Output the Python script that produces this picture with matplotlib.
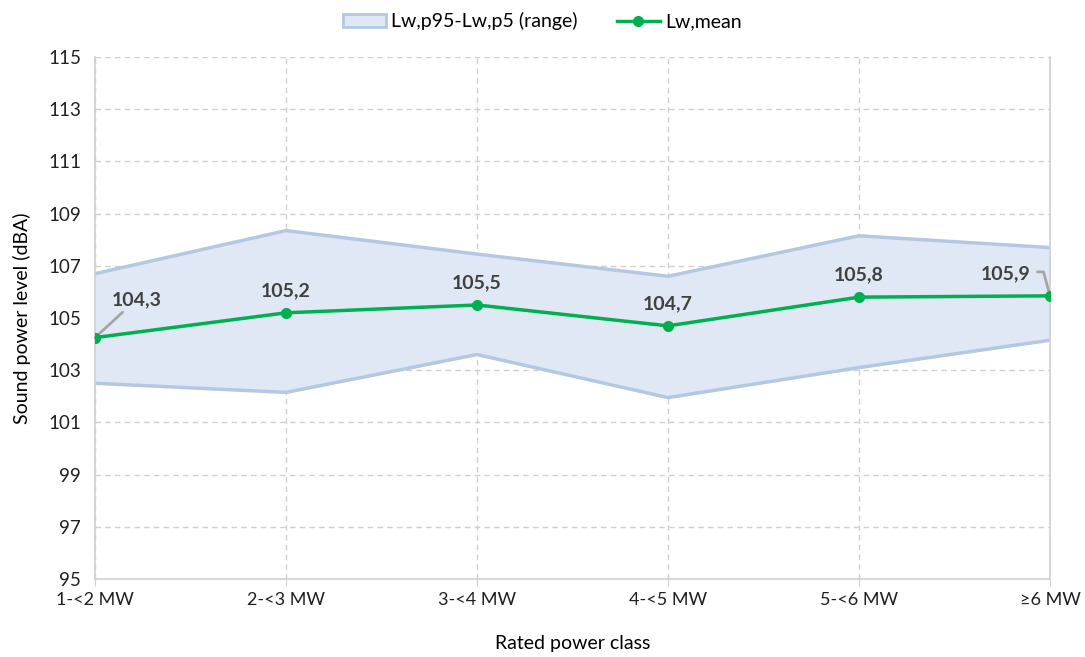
import numpy as np
import matplotlib
matplotlib.use('Agg')
import matplotlib.pyplot as plt
from matplotlib.patches import Patch
from matplotlib.lines import Line2D

font = {'family': ['Lato', 'DejaVu Sans'], 'size': 13}
matplotlib.rc('font', **font)

# Data
classes = ['1-<2 MW', '2-<3 MW', '3-<4 MW', '4-<5 MW', '5-<6 MW', '≥6 MW']
lw_p95 = [106.7, 108.35, 107.45, 106.6, 108.15, 107.7]
lw_p5 = [102.5, 102.15, 103.6, 101.95, 103.1, 104.15]
lw_mean = [104.25, 105.2, 105.5, 104.7, 105.8, 105.85]
mean_labels = ['104,3', '105,2', '105,5', '104,7', '105,8', '105,9']

x = np.arange(len(classes))

fig = plt.figure(figsize=(10.85, 6.57), dpi=100)
ax = fig.add_axes([0.0876, 0.1187, 0.8801, 0.7945])

band_face = '#dfe8f4'
band_edge = '#b4c8e4'
green = '#00b050'
txt = '#404040'

ax.fill_between(x, lw_p5, lw_p95, color=band_face, zorder=1)
ax.plot(x, lw_p95, color=band_edge, lw=2.5, zorder=2)
ax.plot(x, lw_p5, color=band_edge, lw=2.5, zorder=2)
ax.plot(x, lw_mean, color=green, lw=2.5, marker='o', ms=7, zorder=4)

# data labels
last = len(lw_mean) - 1
for i, (v, lab) in enumerate(zip(lw_mean, mean_labels)):
    if i == 0:
        ax.annotate(lab, (x[i], v), xytext=(30, 21), textcoords='offset points',
                    ha='center', va='bottom', fontsize=14, fontweight='bold', color=txt,
                    arrowprops=dict(arrowstyle='-', color='#a6a6a6', lw=2, shrinkA=1, shrinkB=0,
                                    relpos=(0.3, 0)), zorder=3)
    elif i == last:
        ax.annotate(lab, (x[i], v), xytext=(-14, 16), textcoords='offset points',
                    ha='right', va='center', fontsize=14, fontweight='bold', color=txt,
                    arrowprops=dict(arrowstyle='-', color='#a6a6a6', lw=2, shrinkA=3, shrinkB=0,
                                    connectionstyle='angle,angleA=0,angleB=105,rad=0',
                                    relpos=(1, 0.6)), zorder=3)
    else:
        ax.annotate(lab, (x[i], v), xytext=(0, 10), textcoords='offset points',
                    ha='center', va='bottom', fontsize=14, fontweight='bold', color=txt)

ax.set_xlim(0, last)
ax.set_ylim(95, 115)
ax.set_yticks(np.arange(95, 116, 2))
ax.set_xticks(x)
ax.set_xticklabels(classes)
ax.grid(True, color='#d0d0d0', ls=(0, (4, 3)), lw=1)
ax.set_axisbelow(True)
ax.spines['top'].set_visible(False)
for s in ['left', 'bottom', 'right']:
    ax.spines[s].set_color('#d0d0d0')
    ax.spines[s].set_linewidth(1.2)
ax.tick_params(axis='y', length=0, labelsize=13.5, pad=10)
ax.tick_params(axis='x', length=5, color='#d0d0d0', labelsize=13, pad=4)
for t in ax.get_xticklabels() + ax.get_yticklabels():
    t.set_color('#202020')

ax.set_xlabel('Rated power class', fontsize=14, labelpad=20)
ax.set_ylabel('Sound power level (dBA)', fontsize=14, labelpad=12)

handles = [Patch(facecolor=band_face, edgecolor=band_edge, lw=2, label='Lw,p95-Lw,p5 (range)'),
           Line2D([0], [0], color=green, lw=2.5, marker='o', ms=7, label='Lw,mean')]
fig.legend(handles=handles, loc='upper center', bbox_to_anchor=(0.5, 1.008), ncol=2,
           frameon=False, fontsize=14, handlelength=2.2, columnspacing=2.0, handletextpad=0.3)

plt.savefig('out.png', dpi=100)
